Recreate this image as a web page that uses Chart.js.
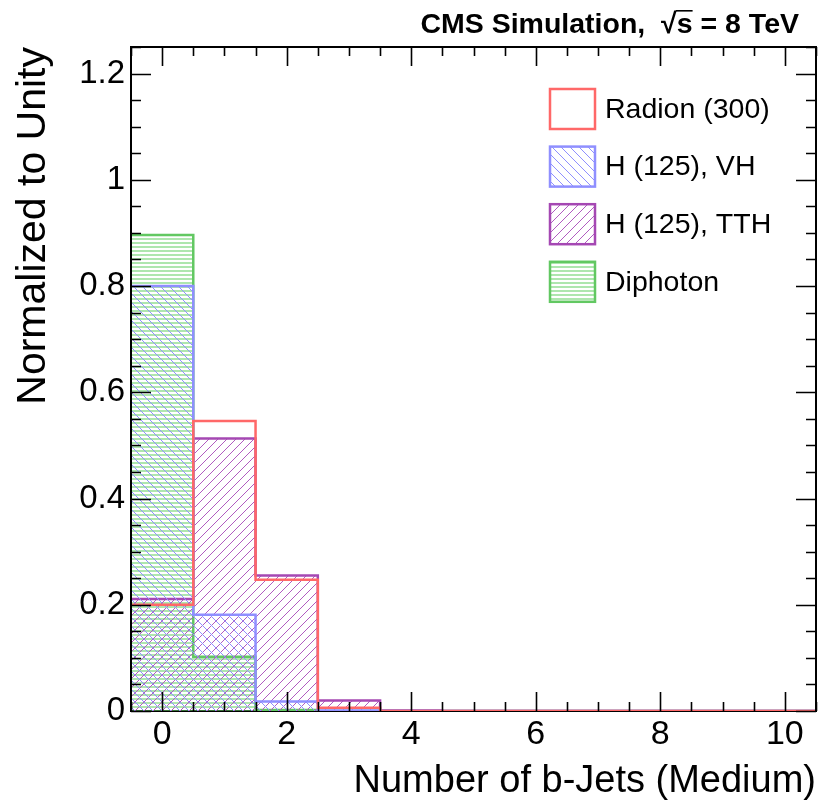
<!DOCTYPE html>
<html>
<head>
<meta charset="utf-8">
<script src="https://cdn.jsdelivr.net/npm/chart.js@4.4.1/dist/chart.umd.min.js"></script>
<style>
    body { margin: 0; background: #fff; }
    #wrap { width: 818px; height: 802px; }
</style>
</head>
<body>
<div id="wrap"><canvas id="chart" width="818" height="802"></canvas></div>
<script>
// ===================================
// DATA
// ===================================

// bin centres (number of medium b-jets)
const nJets = [0, 1, 2, 3, 4, 5, 6, 7, 8, 9, 10];

// normalised fractions per bin
const radion   = [0.200, 0.546, 0.247, 0.006, 0, 0, 0, 0, 0, 0, 0];
const hVH      = [0.800, 0.181, 0.018, 0.001, 0, 0, 0, 0, 0, 0, 0];
const hTTH     = [0.211, 0.513, 0.255, 0.020, 0.001, 0, 0, 0, 0, 0, 0];
const diphoton = [0.896, 0.102, 0.002, 0, 0, 0, 0, 0, 0, 0, 0];

const seriesLabels = ['Radion (300)', 'H (125), VH', 'H (125), TTH', 'Diphoton'];

// axis tick labels
const xTicks = [0, 2, 4, 6, 8, 10];
const yTicks = [0, 0.2, 0.4, 0.6, 0.8, 1, 1.2];

const FONT = "'Liberation Sans', Arial, Helvetica, sans-serif";

const RED = '#ff6868';
const BLUE = '#8f8fff';
const PURPLE = '#a548b3';
const GREEN = '#62c862';

const canvas = document.getElementById('chart');
const ctx = canvas.getContext('2d');

// ===================================
// HATCH PATTERNS (ROOT style fills)
// ===================================

function hatch(kind, color, size) {
    const c = document.createElement('canvas');
    c.width = size;
    c.height = size;
    const g = c.getContext('2d');
    g.strokeStyle = color;
    g.lineWidth = 1;
    g.beginPath();
    if (kind === 'h') {
        // spread over two pixel rows so the green survives image compression
        g.lineWidth = 1.1;
        g.moveTo(0, size - 1);
        g.lineTo(size, size - 1);
    } else if (kind === 'fwd') {
        // '/' lines
        g.moveTo(-1, size + 1); g.lineTo(size + 1, -1);
        g.moveTo(-1, 1); g.lineTo(1, -1);
        g.moveTo(size - 1, size + 1); g.lineTo(size + 1, size - 1);
    } else {
        // '\' lines
        g.moveTo(-1, -1); g.lineTo(size + 1, size + 1);
        g.moveTo(size - 1, -1); g.lineTo(size + 1, 1);
        g.moveTo(-1, size - 1); g.lineTo(1, size + 1);
    }
    g.stroke();
    return ctx.createPattern(c, 'repeat');
}

// histogram as a step line: one point per bin low edge, plus the last high edge
function steps(values) {
    const pts = nJets.map((n, i) => ({ x: n - 0.5, y: values[i] }));
    pts.push({ x: nJets[nJets.length - 1] + 0.5, y: values[values.length - 1] });
    return pts;
}

function histo(label, values, color, pattern) {
    return {
        label: label,
        data: steps(values),
        borderColor: color,
        borderWidth: 2.5,
        backgroundColor: pattern || 'rgba(0,0,0,0)',
        fill: pattern ? 'origin' : false,
        stepped: true,
        pointRadius: 0,
        borderJoinStyle: 'miter'
    };
}

// ===================================
// PLUGINS
// ===================================

const rootFrame = {
    id: 'rootFrame',
    beforeDatasetsDraw(chart) {
        const { left, right, top, bottom } = chart.chartArea;
        const c = chart.ctx;
        c.save();
        c.strokeStyle = '#000';
        c.lineWidth = 2;
        c.strokeRect(left, top, right - left, bottom - top);
        c.restore();
    },
    afterDatasetsDraw(chart) {
        const { left, right, top, bottom } = chart.chartArea;
        const xs = chart.scales.x;
        const ys = chart.scales.y;
        const c = chart.ctx;
        c.save();
        c.strokeStyle = '#000';
        c.lineWidth = 1.6;
        c.beginPath();
        // x ticks every 0.5, major on labelled values
        for (let k = 0; k <= 22; k++) {
            const v = xs.min + k * 0.5;
            const px = Math.round(xs.getPixelForValue(v)) + 0.5;
            const len = xTicks.includes(v) ? 19 : 9;
            c.moveTo(px, bottom); c.lineTo(px, bottom - len);
            c.moveTo(px, top); c.lineTo(px, top + len);
        }
        // y ticks every 0.05, major every 0.2
        for (let k = 0; k <= 25; k++) {
            const v = k * 0.05;
            const py = Math.round(ys.getPixelForValue(v)) + 0.5;
            const len = k % 4 === 0 ? 20 : 10;
            c.moveTo(left, py); c.lineTo(left + len, py);
            c.moveTo(right, py); c.lineTo(right - len, py);
        }
        c.stroke();
        c.lineWidth = 2;
        c.beginPath();
        c.moveTo(left, top); c.lineTo(right, top);
        c.moveTo(left, top); c.lineTo(left, bottom);
        c.moveTo(right, top); c.lineTo(right, bottom);
        c.stroke();
        c.restore();
    },
    afterDraw(chart) {
        const c = chart.ctx;
        const { right } = chart.chartArea;
        c.save();

        // legend inside the frame
        c.font = `28.5px ${FONT}`;
        c.textBaseline = 'middle';
        c.textAlign = 'left';
        chart.data.datasets.forEach((ds, i) => {
            const bx = right - 266;
            const by = 89 + i * 57.6;
            if (ds.fill) {
                c.fillStyle = ds.backgroundColor;
                c.fillRect(bx, by, 45, 40);
            }
            c.strokeStyle = ds.borderColor;
            c.lineWidth = 2.5;
            c.strokeRect(bx, by, 45, 40);
            c.fillStyle = '#000';
            c.fillText(ds.label, bx + 55, by + 21);
        });

        // header text
        c.font = `bold 28.5px ${FONT}`;
        c.textBaseline = 'alphabetic';
        const head = 'CMS Simulation,  ';
        const root = '\u221A';
        const tail = 's = 8 TeV';
        const wHead = c.measureText(head).width;
        const wRoot = c.measureText(root).width;
        const wS = c.measureText('s').width;
        const wTail = c.measureText(tail).width;
        let x = 799 - (wHead + wRoot + wTail);
        const base = 33;
        c.fillStyle = '#000';
        c.fillText(head, x, base);
        x += wHead;
        c.fillText(root, x, base);
        const topRoot = base - c.measureText(root).actualBoundingBoxAscent;
        x += wRoot;
        c.fillText(tail, x, base);
        c.strokeStyle = '#000';
        c.lineWidth = 1.6;
        c.beginPath();
        c.moveTo(x - 1, topRoot + 0.8);
        c.lineTo(x + wS, topRoot + 0.8);
        c.stroke();
        c.restore();
    }
};

// ===================================
// CHART
// ===================================

const chart = new Chart(ctx, {
    type: 'line',
    data: {
        datasets: [
            histo(seriesLabels[0], radion, RED, null),
            histo(seriesLabels[1], hVH, BLUE, hatch('back', '#8f8fff', 9)),
            histo(seriesLabels[2], hTTH, PURPLE, hatch('fwd', '#b05cc0', 9)),
            histo(seriesLabels[3], diphoton, GREEN, hatch('h', '#6cd26c', 4))
        ]
    },
    options: {
        responsive: false,
        animation: false,
        devicePixelRatio: 1,
        layout: { padding: { top: 47, right: 2, left: 0, bottom: 0 } },
        plugins: {
            legend: { display: false },
            tooltip: { enabled: false },
            title: { display: false }
        },
        scales: {
            x: {
                type: 'linear',
                min: -0.5,
                max: 10.5,
                grid: { display: false, drawTicks: false },
                border: { display: false },
                afterBuildTicks: (s) => { s.ticks = xTicks.map(v => ({ value: v })); },
                afterFit: (s) => { s.height = 91; },
                ticks: {
                    color: '#000',
                    padding: 7,
                    maxRotation: 0,
                    autoSkip: false,
                    font: { family: FONT, size: 34, lineHeight: 1 },
                    callback: (v) => String(v)
                },
                title: {
                    display: true,
                    text: 'Number of b-Jets (Medium)',
                    align: 'end',
                    color: '#000',
                    font: { family: FONT, size: 38, lineHeight: 1 },
                    padding: { top: 0, bottom: 1 }
                }
            },
            y: {
                min: 0,
                max: 1.25,
                grid: { display: false, drawTicks: false },
                border: { display: false },
                afterBuildTicks: (s) => { s.ticks = yTicks.map(v => ({ value: v })); },
                afterFit: (s) => { s.width = 131; },
                ticks: {
                    color: '#000',
                    padding: 6,
                    font: { family: FONT, size: 33, lineHeight: 1 },
                    callback: (v) => String(+v.toFixed(2))
                },
                title: {
                    display: true,
                    text: 'Normalized to Unity',
                    align: 'end',
                    color: '#000',
                    font: { family: FONT, size: 41, lineHeight: 1 },
                    padding: { top: 13, bottom: 0 }
                }
            }
        }
    },
    plugins: [rootFrame]
});
</script>
</body>
</html>
